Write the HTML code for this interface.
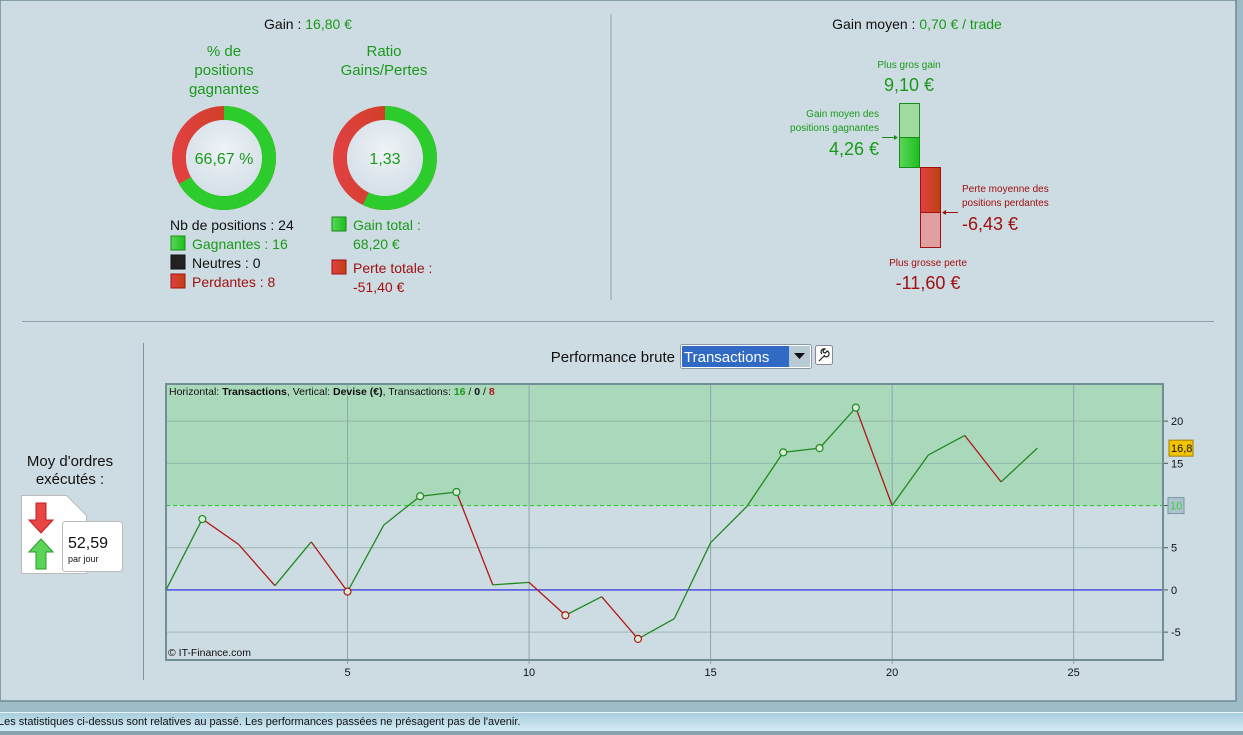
<!DOCTYPE html>
<html><head><meta charset="utf-8"><style>
html,body{margin:0;padding:0;width:1243px;height:735px;overflow:hidden;background:#9dbcc8;font-family:"Liberation Sans",sans-serif}
svg{display:block}
text{font-family:"Liberation Sans",sans-serif}
</style></head><body>
<svg id="root" width="1243" height="735" viewBox="0 0 1243 735" xmlns="http://www.w3.org/2000/svg">
<defs>
<linearGradient id="gGreen" x1="0" y1="0" x2="1" y2="0"><stop offset="0" stop-color="#5bd65b"/><stop offset="1" stop-color="#1cc01c"/></linearGradient>
<linearGradient id="gRed" x1="0" y1="0" x2="1" y2="0"><stop offset="0" stop-color="#e04040"/><stop offset="1" stop-color="#c04010"/></linearGradient>
<radialGradient id="gIn" cx="0.5" cy="0.4" r="0.6"><stop offset="0" stop-color="#eef3f7"/><stop offset="1" stop-color="#d4dfe7"/></radialGradient>
<linearGradient id="gStatus" x1="0" y1="0" x2="0" y2="1"><stop offset="0" stop-color="#a9cddd"/><stop offset="1" stop-color="#d3ecf6"/></linearGradient>
</defs>
<rect x="0" y="0" width="1236" height="701" fill="#cddce3" stroke="#6f8a95" stroke-width="1.5"/>
<rect x="0" y="713" width="1243" height="18" fill="url(#gStatus)"/>
<line x1="0" y1="712.5" x2="1243" y2="712.5" stroke="#e8f4fa"/>
<rect x="0" y="731" width="1243" height="4" fill="#8aa3ad"/>
<text x="-2" y="725" font-size="11" fill="#111">Les statistiques ci-dessus sont relatives au passé. Les performances passées ne présagent pas de l'avenir.</text>
<line x1="611" y1="14" x2="611" y2="300" stroke="#8ca3ad"/>
<line x1="22" y1="321.5" x2="1214" y2="321.5" stroke="#8ca3ad"/>
<line x1="143.5" y1="343" x2="143.5" y2="680" stroke="#7f959f"/>

<text x="308" y="29" font-size="14" text-anchor="middle"><tspan fill="#111">Gain : </tspan><tspan fill="#1a9a1a">16,80 €</tspan></text>
<g fill="#1a9a1a" font-size="15" text-anchor="middle">
<text x="224" y="56">% de</text><text x="224" y="75">positions</text><text x="224" y="94">gagnantes</text></g>
<g fill="#1a9a1a" font-size="15" text-anchor="middle">
<text x="384" y="56">Ratio</text><text x="384" y="75">Gains/Pertes</text></g>
<g id="donuts"></g>
<text x="224" y="164" font-size="16" fill="#1a9a1a" text-anchor="middle">66,67 %</text>
<text x="385" y="164" font-size="16" fill="#1a9a1a" text-anchor="middle">1,33</text>

<text x="170" y="230" font-size="14" fill="#111">Nb de positions : 24</text>
<rect x="171" y="236" width="14" height="14" fill="url(#gGreen)" stroke="#1a8a1a"/>
<text x="192" y="249" font-size="14" fill="#1a9a1a">Gagnantes : 16</text>
<rect x="171" y="255" width="14" height="14" fill="#222" stroke="#111"/>
<text x="192" y="268" font-size="14" fill="#111">Neutres : 0</text>
<rect x="171" y="274" width="14" height="14" fill="url(#gRed)" stroke="#a01010"/>
<text x="192" y="287" font-size="14" fill="#a01010">Perdantes : 8</text>
<rect x="332" y="217" width="14" height="14" fill="url(#gGreen)" stroke="#1a8a1a"/>
<text x="353" y="230" font-size="14" fill="#1a9a1a">Gain total :</text>
<text x="353" y="249" font-size="14" fill="#1a9a1a">68,20 €</text>
<rect x="332" y="260" width="14" height="14" fill="url(#gRed)" stroke="#a01010"/>
<text x="353" y="273" font-size="14" fill="#a01010">Perte totale :</text>
<text x="353" y="292" font-size="14" fill="#a01010">-51,40 €</text>

<text x="917" y="29" font-size="14" text-anchor="middle"><tspan fill="#111">Gain moyen : </tspan><tspan fill="#1a9a1a">0,70 € / trade</tspan></text>
<text x="909" y="68" font-size="10" fill="#1a9a1a" text-anchor="middle">Plus gros gain</text>
<text x="909" y="91" font-size="18" fill="#1a9a1a" text-anchor="middle">9,10 €</text>
<text x="879" y="117" font-size="10" fill="#1a9a1a" text-anchor="end">Gain moyen des</text>
<text x="879" y="131" font-size="10" fill="#1a9a1a" text-anchor="end">positions gagnantes</text>
<text x="879" y="155" font-size="18" fill="#1a9a1a" text-anchor="end">4,26 €</text>
<rect x="899.5" y="103.5" width="20" height="34" fill="#a0dca0" stroke="#1a8a1a"/>
<rect x="899.5" y="137.5" width="20" height="30" fill="url(#gGreen)" stroke="#1a8a1a"/>
<line x1="882" y1="137.5" x2="897" y2="137.5" stroke="#1a8a1a"/><path d="M898 137.5l-4 -2.5v5z" fill="#1a8a1a"/>
<rect x="920.5" y="167.5" width="20" height="45" fill="url(#gRed)" stroke="#a01010"/>
<rect x="920.5" y="212.5" width="20" height="35" fill="#e0a0a0" stroke="#a01010"/>
<line x1="944" y1="212.5" x2="958" y2="212.5" stroke="#a01010"/><path d="M942 212.5l4 -2.5v5z" fill="#a01010"/>
<text x="962" y="192" font-size="10" fill="#a01010">Perte moyenne des</text>
<text x="962" y="206" font-size="10" fill="#a01010">positions perdantes</text>
<text x="962" y="230" font-size="18" fill="#a01010">-6,43 €</text>
<text x="928" y="266" font-size="10" fill="#a01010" text-anchor="middle">Plus grosse perte</text>
<text x="928" y="289" font-size="18" fill="#a01010" text-anchor="middle">-11,60 €</text>

<text x="70" y="466" font-size="15" fill="#111" text-anchor="middle">Moy d'ordres</text>
<text x="70" y="484" font-size="15" fill="#111" text-anchor="middle">exécutés :</text>
<path d="M21.5 495.5h45l20 20v58h-65z" fill="#fff" stroke="#bbb"/>
<path d="M36 503h10v17h7l-12 13-12-13h7z" fill="#e84545" stroke="#c02020"/>
<path d="M41 539l12 13h-7v17h-10v-17h-7z" fill="#5ad55a" stroke="#2a9a2a"/>
<rect x="62.5" y="521.5" width="60" height="50" rx="3" fill="#fff" stroke="#bbb"/>
<text x="68" y="548" font-size="16" fill="#111">52,59</text>
<text x="68" y="562" font-size="9" fill="#111">par jour</text>

<text x="675" y="362" font-size="15" fill="#111" text-anchor="end">Performance brute</text>
<g>
<rect x="680.5" y="344.5" width="131" height="24" rx="2" fill="#fff" stroke="#8a9aa5"/>
<rect x="682" y="346" width="107" height="21" fill="#316ac5"/>
<rect x="789" y="346" width="21" height="21" fill="#b8cad3"/>
<path d="M794 353h11l-5.5 6z" fill="#111"/>
<text x="684" y="362" font-size="15" fill="#fff">Transactions</text></g>
<g>
<rect x="815.5" y="345.5" width="17" height="19" rx="2" fill="#fff" stroke="#889"/>
<path d="M819 361l6-6M824 356a3 3 0 1 0 3-5l-1.5 2-2-0.5-0.5-2 2-1.5a3 3 0 0 0-3 5" fill="none" stroke="#222" stroke-width="1.2"/></g>

<g id="chart"></g>
</svg>
<script>
const NS='http://www.w3.org/2000/svg';
function mk(p,t,a){const e=document.createElementNS(NS,t);for(const k in a)e.setAttribute(k,a[k]);p.appendChild(e);return e;}
// donuts
const donutFractions=[0.6667,68.2/(68.2+51.4)];
const donutCenters=[224,385];
const dg=document.getElementById('donuts');
donutFractions.forEach((f,i)=>{
 const cx=donutCenters[i],cy=158,r=45;
 const c=mk(dg,'circle',{cx:cx,cy:cy,r:r,fill:'none',stroke:'url(#gRed)','stroke-width':14});
 
 
 const a=f*2*Math.PI;
 const x=cx+r*Math.sin(a),y=cy-r*Math.cos(a);
 const p=mk(dg,'path',{d:`M${cx} ${cy-r}A${r} ${r} 0 ${f>0.5?1:0} 1 ${x} ${y}`,fill:'none',stroke:'#2ccc2c','stroke-width':14});
 
 
 mk(dg,'circle',{cx:cx,cy:cy,r:38,fill:'url(#gIn)'});
});
// chart data
const xValues=[0,1,2,3,4,5,6,7,8,9,10,11,12,13,14,15,16,17,18,19,20,21,22,23,24];
const yValues=[0,8.4,5.4,0.5,5.7,-0.2,7.7,11.1,11.6,0.6,0.9,-3.0,-0.8,-5.8,-3.4,5.6,9.9,16.3,16.8,21.6,10.0,16.0,18.3,12.8,16.8];
const xTicks=[5,10,15,20,25];
const yTicks=[-5,0,5,10,15,20];
const threshold=10;
const lastValueLabel='16,8';
const L=166,R=1163,T=384,B=660;
const xMin=0,xMax=27.46,yMin=-8.3,yMax=24.4;
const X=v=>L+(v-xMin)/(xMax-xMin)*(R-L);
const Y=v=>B-(v-yMin)/(yMax-yMin)*(B-T);
const g=document.getElementById('chart');
mk(g,'rect',{x:L,y:T,width:R-L,height:B-T,fill:'#ccdce2'});
const zone=mk(g,'rect',{x:L,y:T,width:R-L,height:Y(threshold)-T,fill:'#a9d8ba'});


yTicks.forEach(t=>{
 if(t!==threshold&&t!==0) mk(g,'line',{x1:L,x2:R,y1:Y(t),y2:Y(t),stroke:'#8fb0a8','stroke-width':1,opacity:0.8});
 mk(g,'line',{x1:R,x2:R+5,y1:Y(t),y2:Y(t),stroke:'#555'});
 if(t!==threshold){const tx=mk(g,'text',{x:R+8,y:Y(t)+4,'font-size':11,fill:'#111'});tx.textContent=t;
 
 }
});
xTicks.forEach(t=>{
 mk(g,'line',{x1:X(t),x2:X(t),y1:T,y2:B+4,stroke:'#8fa5ad','stroke-width':1});
 const tx=mk(g,'text',{x:X(t),y:B+16,'font-size':11,fill:'#111','text-anchor':'middle'});tx.textContent=t;
 
 
});
const zl=mk(g,'line',{x1:L,x2:R,y1:Y(0),y2:Y(0),stroke:'#2020e0','stroke-width':1.2});


const th=mk(g,'line',{x1:L,x2:R,y1:Y(threshold),y2:Y(threshold),stroke:'#33cc33','stroke-dasharray':'4,3','stroke-width':1.2});


mk(g,'rect',{x:L,y:T,width:R-L,height:B-T,fill:'none',stroke:'#6f8f95','stroke-width':2});
for(let i=1;i<yValues.length;i++){
 const up=yValues[i]>=yValues[i-1];
 const s=mk(g,'line',{x1:X(xValues[i-1]),y1:Y(yValues[i-1]),x2:X(xValues[i]),y2:Y(yValues[i]),stroke:up?'#1f8a1f':'#b01818','stroke-width':1.3});
 
 
}
let mx=0,mn=0;
for(let i=1;i<yValues.length;i++){
 const v=yValues[i];let col=null;
 if(v>mx){mx=v;col='#1f8a1f';}else if(v<mn){mn=v;col='#b01818';}
 if(col){const c=mk(g,'circle',{cx:X(xValues[i]),cy:Y(v),r:3.5,fill:'#d8ecd8',stroke:col,'stroke-width':1.2});
 
 }
}
const last=yValues[yValues.length-1];
const lb=mk(g,'rect',{x:R+6,y:Y(last)-8,width:24,height:16,fill:'#f5c400',stroke:'#a08000'});


const lt=mk(g,'text',{x:R+8,y:Y(last)+4,'font-size':11,fill:'#111'});lt.textContent=lastValueLabel;
const tb=mk(g,'rect',{x:R+5,y:Y(threshold)-8,width:16,height:16,fill:'#a9c4cc',stroke:'#7b99a2'});


const tt=mk(g,'text',{x:R+7,y:Y(threshold)+4,'font-size':11,fill:'#44cc44'});tt.textContent=threshold;
const hd=mk(g,'text',{x:L+3,y:T+11,'font-size':10.5,fill:'#111'});


hd.innerHTML='Horizontal: <tspan font-weight="bold">Transactions</tspan>, Vertical: <tspan font-weight="bold">Devise (€)</tspan>, Transactions: <tspan font-weight="bold" fill="#1a9a1a">16</tspan> / <tspan font-weight="bold">0</tspan> / <tspan font-weight="bold" fill="#b01818">8</tspan>';
const cp=mk(g,'text',{x:L+2,y:B-4,'font-size':10.5,fill:'#111'});cp.textContent='© IT-Finance.com';


</script>
</body></html>
